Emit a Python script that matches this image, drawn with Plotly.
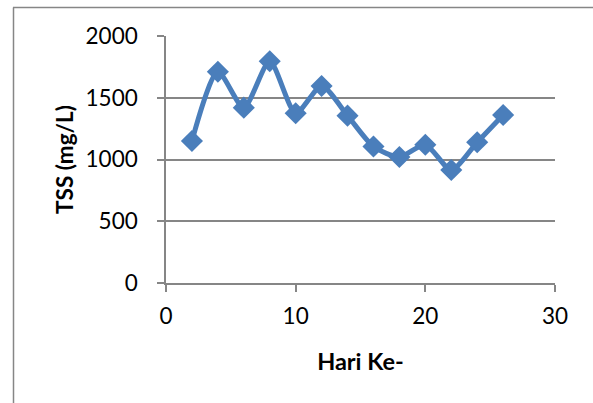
import plotly.graph_objects as go

# TSS measurements by day
hari = [2, 4, 6, 8, 10, 12, 14, 16, 18, 20, 22, 24, 26]
tss = [1150, 1710, 1420, 1795, 1375, 1595, 1355, 1105, 1020, 1120, 915, 1140, 1360]

x_ticks = [0, 10, 20, 30]
y_ticks = [0, 500, 1000, 1500, 2000]

blue = "#4A7EBB"
gray = "#868686"
font = "Lato, 'Open Sans', sans-serif"

fig = go.Figure()
fig.add_trace(go.Scatter(
    x=hari, y=tss,
    mode="lines+markers",
    line=dict(color=blue, width=5, shape="spline", smoothing=0.7),
    marker=dict(symbol="diamond", size=17, color=blue),
    showlegend=False,
))

fig.update_layout(
    width=593, height=403,
    margin=dict(l=166, r=38, t=36, b=120),
    paper_bgcolor="white", plot_bgcolor="white",
    font=dict(family=font, size=22, color="black"),
    xaxis=dict(
        range=[0, 30], tickvals=x_ticks, showgrid=False, zeroline=False,
        showline=True, linecolor=gray, linewidth=1.5,
        ticks="outside", ticklen=7, tickcolor=gray, tickwidth=1.5,
        tickfont=dict(size=22.5), ticklabelstandoff=5,
        title=dict(text="<b>Hari Ke-</b>", font=dict(size=23.5), standoff=26),
    ),
    yaxis=dict(
        range=[0, 2000], tickvals=y_ticks, showgrid=True, gridcolor=gray,
        gridwidth=1.5, zeroline=False,
        showline=True, linecolor=gray, linewidth=1.5,
        ticks="outside", ticklen=7, tickcolor=gray, tickwidth=1.5,
        tickfont=dict(size=22.5), ticklabelstandoff=15,
        title=dict(text="<b>TSS (mg/L)</b>", font=dict(size=22.5), standoff=6),
    ),
)

# chart area border: top and left edges
px_x = lambda p: (p - 166) / 389
px_y = lambda p: (283 - p) / 247
fig.add_shape(type="line", xref="paper", yref="paper",
              x0=px_x(13), x1=px_x(600), y0=px_y(7.5), y1=px_y(7.5),
              line=dict(color=gray, width=1.5), layer="below")
fig.add_shape(type="line", xref="paper", yref="paper",
              x0=px_x(13.5), x1=px_x(13.5), y0=px_y(7.5), y1=px_y(410),
              line=dict(color=gray, width=1.5), layer="below")

fig.write_html("out.html")
